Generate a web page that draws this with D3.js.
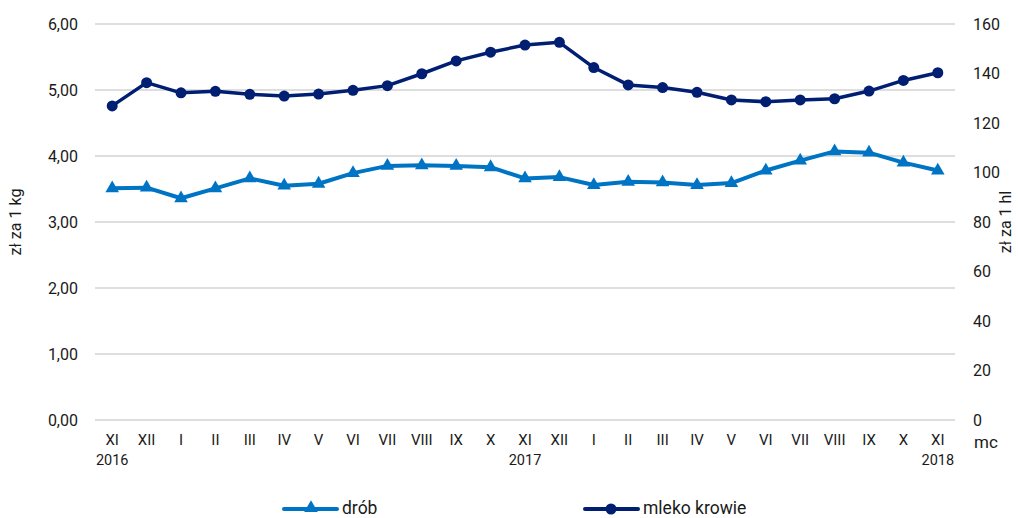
<!DOCTYPE html>
<html>
<head>
<meta charset="utf-8">
<script src="https://cdn.jsdelivr.net/npm/d3@7"></script>
<style>
  body { margin: 0; background: #fff; }
  svg text { font-family: Roboto, "Open Sans", sans-serif; fill: #1a1a1a; }
</style>
</head>
<body>
<svg class="chart" width="1018" height="518"></svg>
<script>
// months XI 2016 - XI 2018
var months = ["XI","XII","I","II","III","IV","V","VI","VII","VIII","IX","X",
              "XI","XII","I","II","III","IV","V","VI","VII","VIII","IX","X","XI"];
var years = ["2016","","","","","","","","","","","","2017","","","","","","","","","","","","2018"];

// zł za 1 kg
var drob = [3.51, 3.52, 3.36, 3.51, 3.66, 3.55, 3.58, 3.74, 3.85, 3.86, 3.85, 3.83,
            3.66, 3.68, 3.56, 3.61, 3.60, 3.56, 3.59, 3.78, 3.93, 4.07, 4.05, 3.90, 3.78];
// zł za 1 hl
var mleko = [126.9, 136.3, 132.2, 132.8, 131.6, 130.9, 131.7, 133.2, 135.1, 139.9, 145.1, 148.6,
             151.5, 152.6, 142.4, 135.4, 134.3, 132.4, 129.3, 128.6, 129.3, 129.8, 132.9, 137.2, 140.3];

var leftTicks = [0, 1, 2, 3, 4, 5, 6];
var rightTicks = [0, 20, 40, 60, 80, 100, 120, 140, 160];

window.onload = function() {
  makeChart();
};

function makeChart() {
  var svg = d3.select(".chart");
  var left = 95, right = 955, top = 24, bottom = 420;
  var c1 = "#0074c4", c2 = "#001f73";

  var idx = d3.range(months.length);
  var x = d3.scaleBand().domain(idx).range([left, right]);
  var cx = function(i) { return x(i) + x.bandwidth() / 2; };
  var y = d3.scaleLinear().domain([0, 6]).range([bottom, top]);
  var y2 = d3.scaleLinear().domain([0, 160]).range([bottom, top]);

  // grid
  svg.append("g").selectAll("line")
    .data(leftTicks)
  .enter().append("line")
    .attr("x1", left).attr("x2", right)
    .attr("y1", function(d) { return y(d); })
    .attr("y2", function(d) { return y(d); })
    .attr("stroke", "#bdbdbd")
    .attr("stroke-width", 1);

  var fmt = function(d) { return d3.format(".2f")(d).replace(".", ","); };

  // left axis
  var ax1 = svg.append("g").attr("transform", "translate(" + (left - 17) + ",0)")
    .call(d3.axisLeft(y).tickValues(leftTicks).tickFormat(fmt).tickSize(0));
  ax1.select(".domain").remove();
  ax1.selectAll("text").attr("font-size", 16).attr("fill", "#1a1a1a").attr("x", 0);

  // right axis
  var ax2 = svg.append("g").attr("transform", "translate(" + (right + 18) + ",0)")
    .call(d3.axisRight(y2).tickValues(rightTicks).tickSize(0));
  ax2.select(".domain").remove();
  ax2.selectAll("text").attr("font-size", 16).attr("fill", "#1a1a1a").attr("x", 0);

  // x labels
  var xl = svg.append("g");
  xl.selectAll("text.m")
    .data(idx)
  .enter().append("text")
    .attr("class", "m")
    .attr("x", cx)
    .attr("y", 445)
    .attr("text-anchor", "middle")
    .attr("font-size", 15)
    .text(function(i) { return months[i]; });
  xl.selectAll("text.yr")
    .data(idx.filter(function(i) { return years[i] !== ""; }))
  .enter().append("text")
    .attr("class", "yr")
    .attr("x", cx)
    .attr("y", 465)
    .attr("text-anchor", "middle")
    .attr("font-size", 14.5)
    .text(function(i) { return years[i]; });

  svg.append("text").attr("x", 974).attr("y", 448)
    .attr("font-size", 17).text("mc");

  // axis titles
  svg.append("text")
    .attr("transform", "translate(21,222) rotate(-90)")
    .attr("text-anchor", "middle")
    .attr("font-size", 16)
    .text("zł za 1 kg");
  svg.append("text")
    .attr("transform", "translate(1011,222) rotate(-90)")
    .attr("text-anchor", "middle")
    .attr("font-size", 16)
    .text("zł za 1 hl");

  var tri = d3.symbol().type(d3.symbolTriangle).size(80);

  // drób line
  var line1 = d3.line().x(function(d, i) { return cx(i); }).y(function(d) { return y(d); });
  svg.append("path").datum(drob)
    .attr("d", line1)
    .attr("fill", "none").attr("stroke", c1).attr("stroke-width", 4)
    .attr("stroke-linejoin", "round");
  svg.append("g").selectAll("path")
    .data(drob)
  .enter().append("path")
    .attr("d", tri)
    .attr("transform", function(d, i) { return "translate(" + cx(i) + "," + y(d) + ")"; })
    .attr("fill", c1);

  // mleko line
  var line2 = d3.line().x(function(d, i) { return cx(i); }).y(function(d) { return y2(d); });
  svg.append("path").datum(mleko)
    .attr("d", line2)
    .attr("fill", "none").attr("stroke", c2).attr("stroke-width", 3.5)
    .attr("stroke-linejoin", "round");
  svg.append("g").selectAll("circle")
    .data(mleko)
  .enter().append("circle")
    .attr("cx", function(d, i) { return cx(i); })
    .attr("cy", function(d) { return y2(d); })
    .attr("r", 5.5)
    .attr("fill", c2);

  // legend
  var lg = svg.append("g");
  var items = [{name: "drób", color: c1, x: 284, shape: "tri"},
               {name: "mleko krowie", color: c2, x: 585, shape: "circle"}];
  items.forEach(function(it) {
    lg.append("line").attr("x1", it.x).attr("x2", it.x + 53)
      .attr("y1", 509).attr("y2", 509)
      .attr("stroke", it.color).attr("stroke-width", 4).attr("stroke-linecap", "round");
    if (it.shape === "tri") {
      lg.append("path").attr("d", tri)
        .attr("transform", "translate(" + (it.x + 27) + ",508)")
        .attr("fill", it.color);
    } else {
      lg.append("circle").attr("cx", it.x + 26).attr("cy", 509).attr("r", 5.5)
        .attr("fill", it.color);
    }
    lg.append("text").attr("x", it.x + 58).attr("y", 514)
      .attr("font-size", 17.5).text(it.name);
  });
}
</script>
</body>
</html>
